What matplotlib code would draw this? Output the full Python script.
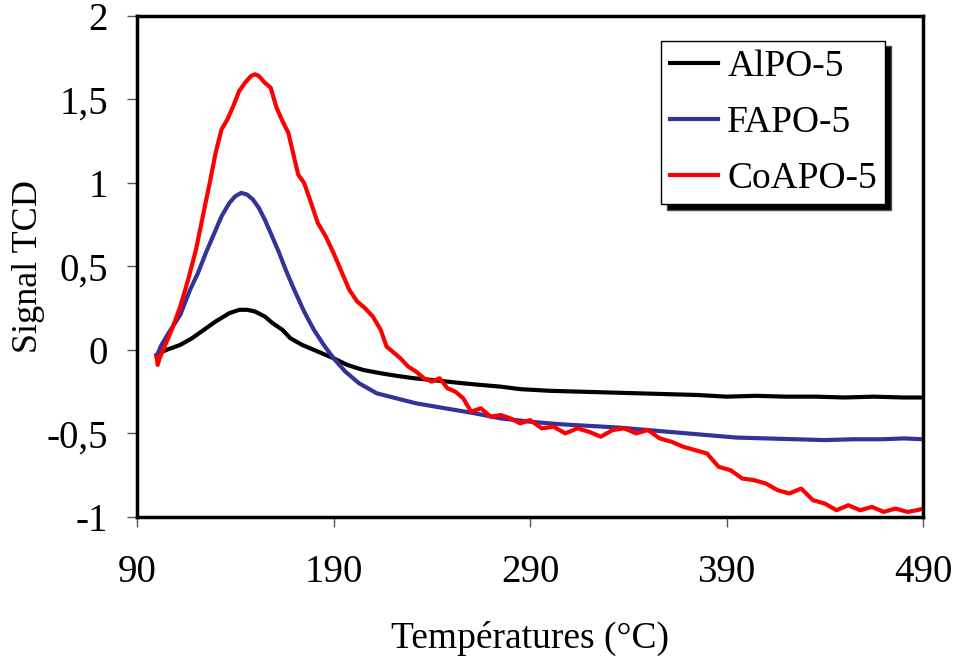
import matplotlib
matplotlib.use("Agg")
import matplotlib.pyplot as plt

# AlPO-5 (noir)
t_alpo = [100, 101, 105, 112, 118, 124, 130, 137, 142, 146, 150, 155, 159, 164, 168, 174,
          182, 190, 197, 205, 214, 222, 231, 240, 248, 256, 265, 275, 285, 300, 315, 330,
          345, 360, 375, 390, 405, 420, 435, 450, 465, 480, 490]
s_alpo = [-0.03, -0.02, 0.0, 0.03, 0.07, 0.12, 0.17, 0.22, 0.24, 0.24, 0.23, 0.2, 0.16, 0.12,
          0.07, 0.03, -0.01, -0.05, -0.09, -0.12, -0.14, -0.155, -0.17, -0.18, -0.19, -0.2,
          -0.21, -0.22, -0.235, -0.245, -0.25, -0.255, -0.26, -0.265, -0.27, -0.28, -0.275,
          -0.28, -0.28, -0.285, -0.28, -0.285, -0.285]

# FAPO-5 (bleu)
t_fapo = [100, 102, 106, 112, 117, 121, 125, 129, 133, 137, 140, 143, 146, 149, 152, 155,
          158, 162, 166, 170, 175, 180, 185, 190, 196, 203, 212, 222, 232, 242, 252, 262,
          275, 290, 305, 320, 335, 350, 365, 380, 395, 410, 425, 440, 455, 470, 480, 490]
s_fapo = [-0.04, 0.02, 0.1, 0.21, 0.36, 0.46, 0.58, 0.69, 0.8, 0.88, 0.92, 0.94, 0.93, 0.9,
          0.85, 0.78, 0.7, 0.59, 0.47, 0.36, 0.23, 0.12, 0.03, -0.05, -0.13, -0.2, -0.26,
          -0.29, -0.32, -0.34, -0.36, -0.38, -0.41, -0.43, -0.445, -0.455, -0.465, -0.48,
          -0.495, -0.51, -0.525, -0.53, -0.535, -0.54, -0.535, -0.535, -0.53, -0.535]

# CoAPO-5 (rouge)
t_coapo = [100, 100.5, 101.5, 104, 108, 112, 116, 120, 124, 127, 130, 133, 136, 139, 142,
           145, 148, 150, 152, 155, 158, 161, 164, 167, 170, 172, 175, 178, 182, 186, 190,
           194, 198, 202, 206, 210, 214, 217, 220, 224, 228, 232, 236, 240, 244, 248, 252,
           256, 260, 265, 270, 275, 280, 285, 290, 296, 302, 308, 314, 320, 326, 332, 338,
           344, 350, 356, 362, 368, 374, 380, 386, 392, 398, 404, 410, 416, 422, 428, 434,
           440, 446, 452, 458, 464, 470, 476, 482, 487, 490]
s_coapo = [-0.04, -0.09, -0.05, 0.02, 0.13, 0.26, 0.42, 0.6, 0.83, 1.0, 1.18, 1.32, 1.38,
           1.46, 1.55, 1.6, 1.64, 1.65, 1.64, 1.6, 1.57, 1.45, 1.37, 1.3, 1.15, 1.05, 1.0,
           0.9, 0.76, 0.68, 0.58, 0.47, 0.36, 0.29, 0.25, 0.2, 0.12, 0.02, -0.01, -0.05,
           -0.1, -0.13, -0.17, -0.19, -0.17, -0.23, -0.25, -0.29, -0.37, -0.35, -0.4, -0.39,
           -0.41, -0.44, -0.42, -0.47, -0.46, -0.5, -0.47, -0.49, -0.52, -0.48, -0.47, -0.5,
           -0.48, -0.53, -0.55, -0.58, -0.6, -0.62, -0.7, -0.72, -0.77, -0.78, -0.8, -0.84,
           -0.86, -0.83, -0.9, -0.92, -0.96, -0.93, -0.96, -0.94, -0.97, -0.95, -0.97, -0.96,
           -0.95]

x_ticks = [90, 190, 290, 390, 490]
y_ticks = [-1, -0.5, 0, 0.5, 1, 1.5, 2]
y_labels = ["-1", "-0,5", "0", "0,5", "1", "1,5", "2"]

plt.rcParams["font.family"] = ["Liberation Serif", "DejaVu Serif"]

fig = plt.figure(figsize=(9.55, 6.61), dpi=100)
ax = fig.add_axes([0.1435, 0.218, 0.823, 0.758])

ax.plot(t_alpo, s_alpo, color="black", lw=3, label="AlPO-5")
ax.plot(t_fapo, s_fapo, color="#333399", lw=3, label="FAPO-5")
ax.plot(t_coapo, s_coapo, color="#ff0000", lw=3, label="CoAPO-5")

ax.set_xlim(90, 490)
ax.set_ylim(-1, 2)
ax.set_xticks(x_ticks)
ax.set_xticklabels([str(v) for v in x_ticks])
ax.set_yticks(y_ticks)
ax.set_yticklabels(y_labels)
ax.tick_params(axis="both", direction="out", length=7, width=1, color="#555555",
               labelsize=28)
ax.tick_params(axis="x", pad=20)
ax.tick_params(axis="y", pad=14)
for sp in ax.spines.values():
    sp.set_linewidth(2.5)

ax.set_xlabel("Températures (°C)", fontsize=27, labelpad=21)
ax.set_ylabel("Signal TCD", fontsize=26)
ax.yaxis.set_label_coords(-0.117, 0.5)

leg = ax.legend(loc="upper left", bbox_to_anchor=(0.667, 0.95), borderaxespad=0,
                fontsize=27, frameon=True, fancybox=False, handlelength=1.3,
                handletextpad=0.24, labelspacing=0.58, borderpad=0.22,
                shadow={"ox": 4, "oy": -4, "facecolor": "black", "alpha": 1})
leg.get_frame().set_edgecolor("black")
leg.get_frame().set_linewidth(1)
for line in leg.get_lines():
    line.set_linewidth(3)

fig.savefig("out.png", dpi=100)
